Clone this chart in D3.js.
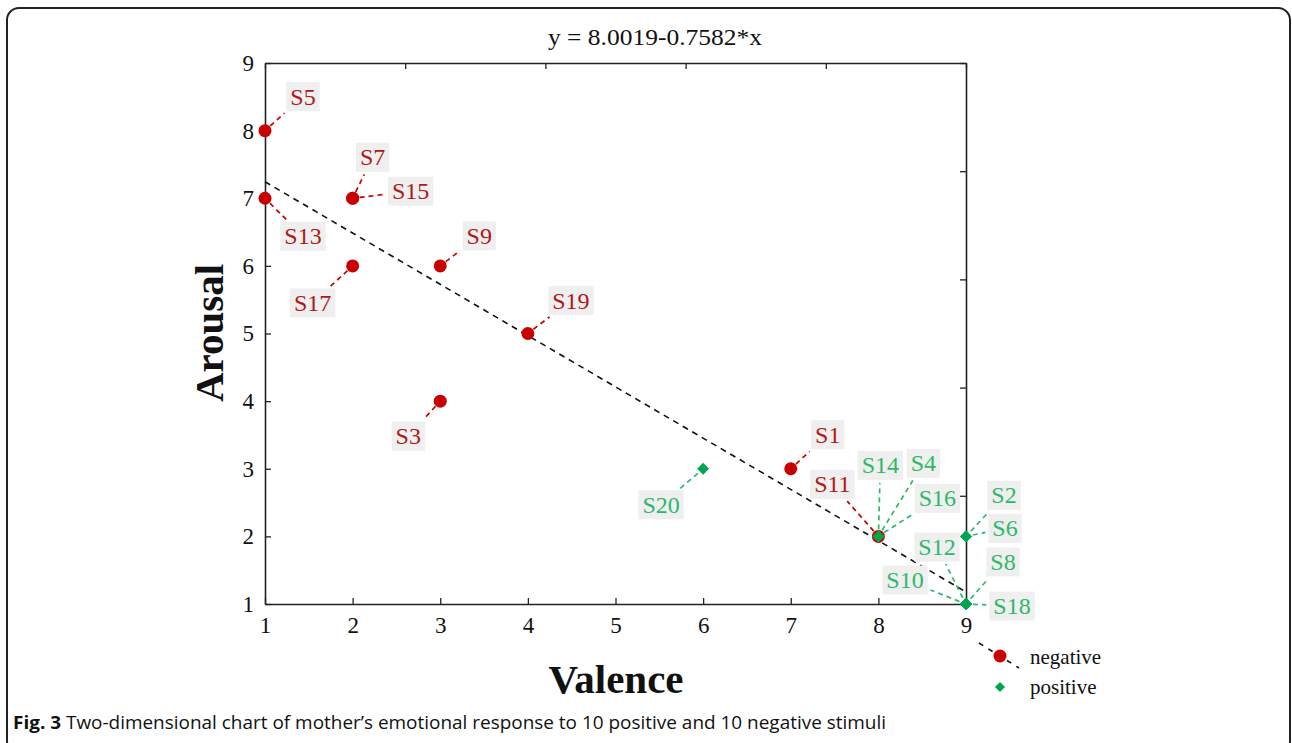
<!DOCTYPE html>
<html>
<head>
<meta charset="utf-8">
<script src="https://cdn.jsdelivr.net/npm/d3@7"></script>
<style>
  body { margin: 0; background: #fff; }
  svg text { font-family: "Liberation Serif", "Times New Roman", serif; }
</style>
</head>
<body>
<div id="chart"></div>
<script>
// negative stimuli
const negNames   = ['S1', 'S3', 'S5', 'S7', 'S9', 'S11', 'S13', 'S15', 'S17', 'S19'];
const negValence = [7, 3, 1, 2, 3, 8, 1, 2, 2, 4];
const negArousal = [3, 4, 8, 7, 6, 2, 7, 7, 6, 5];

// positive stimuli
const posNames   = ['S2', 'S4', 'S6', 'S8', 'S10', 'S12', 'S14', 'S16', 'S18', 'S20'];
const posValence = [9, 8, 9, 9, 9, 9, 8, 8, 9, 6];
const posArousal = [2, 2, 2, 1, 1, 1, 2, 2, 1, 3];

const xTicks = [1, 2, 3, 4, 5, 6, 7, 8, 9];
const yTicks = [1, 2, 3, 4, 5, 6, 7, 8, 9];

// fit line
const intercept = 8.0019;
const slope = -0.7582;
const fitTitle = 'y = 8.0019-0.7582*x';

// where each label sits, relative to its point (pixels)
const labelShift = {
  S1: [37, -34], S3: [-32, 35], S5: [38, -34], S7: [20, -41], S9: [39, -30],
  S11: [-46, -52], S13: [38, 38], S15: [58, -7], S17: [-40, 37], S19: [43, -33],
  S2: [38, -41], S4: [45, -73], S6: [39, -8], S8: [37, -42], S10: [-61, -24],
  S12: [-29, -57], S14: [2, -71], S16: [59, -38], S18: [46, 2], S20: [-42, 36]
};

const serif = '"Liberation Serif", "Times New Roman", serif';
const negColor = '#c80000', negText = '#b01818';
const posColor = '#00a550', posText = '#2db86a';

const svg = d3.select('#chart').append('svg')
  .attr('width', 1292).attr('height', 743);

// figure frame
svg.append('rect')
  .attr('x', 7).attr('y', 8).attr('width', 1283).attr('height', 745)
  .attr('rx', 12)
  .attr('fill', 'none').attr('stroke', '#222').attr('stroke-width', 2);

const x = d3.scaleLinear().domain([1, 9]).range([265, 966]);
const y = d3.scaleLinear().domain([1, 9]).range([604, 63]);

function styleAxis(g) {
  g.attr('font-family', serif);
  g.selectAll('.domain').attr('stroke', '#222').attr('stroke-width', 1.6);
  g.selectAll('.tick line').attr('stroke', '#222').attr('stroke-width', 1.3);
  g.selectAll('.tick text')
    .attr('fill', '#111')
    .style('font-family', serif)
    .style('font-size', '23px');
}

svg.append('g')
  .attr('transform', 'translate(0,604)')
  .call(d3.axisBottom(x).tickValues(xTicks).tickFormat(d3.format('d'))
    .tickSizeInner(-6).tickSizeOuter(0).tickPadding(13))
  .call(styleAxis);

svg.append('g')
  .attr('transform', 'translate(265,0)')
  .call(d3.axisLeft(y).tickValues(yTicks).tickFormat(d3.format('d'))
    .tickSizeInner(-6).tickSizeOuter(0).tickPadding(11))
  .call(styleAxis);

// top and right frame, 5 divisions each
const xTop = d3.scaleLinear().domain([0, 5]).range([265, 966]);
const yRight = d3.scaleLinear().domain([0, 5]).range([604, 63]);
svg.append('g')
  .attr('transform', 'translate(0,63)')
  .call(d3.axisTop(xTop).ticks(5).tickFormat('').tickSizeInner(-6).tickSizeOuter(0))
  .call(styleAxis);
svg.append('g')
  .attr('transform', 'translate(966,0)')
  .call(d3.axisRight(yRight).ticks(5).tickFormat('').tickSizeInner(-6).tickSizeOuter(0))
  .call(styleAxis);

// title
svg.append('text')
  .attr('x', 655).attr('y', 45)
  .attr('text-anchor', 'middle')
  .style('font-family', serif)
  .style('font-size', '24px')
  .attr('fill', '#111')
  .attr('textLength', 214).attr('lengthAdjust', 'spacingAndGlyphs')
  .text(fitTitle);

// axis titles
svg.append('text')
  .attr('x', 616).attr('y', 693)
  .attr('text-anchor', 'middle')
  .style('font-family', serif)
  .style('font-size', '41px').style('font-weight', 'bold')
  .attr('fill', '#111')
  .text('Valence');

svg.append('text')
  .attr('transform', 'translate(223,333) rotate(-90)')
  .attr('text-anchor', 'middle')
  .style('font-family', serif)
  .style('font-size', '41px').style('font-weight', 'bold')
  .attr('fill', '#111')
  .text('Arousal');

// regression line
const fitLine = d3.line().x(d => x(d)).y(d => y(intercept + slope * d));
svg.append('path')
  .attr('d', fitLine([1, 9]))
  .attr('fill', 'none')
  .attr('stroke', '#111')
  .attr('stroke-width', 1.6)
  .attr('stroke-dasharray', '6,5');

const negData = negNames.map((n, i) => ({ name: n, v: negValence[i], a: negArousal[i], neg: true }));
const posData = posNames.map((n, i) => ({ name: n, v: posValence[i], a: posArousal[i], neg: false }));
const allData = negData.concat(posData);

const leaders = svg.append('g');
const marks = svg.append('g');
const labels = svg.append('g');

// labels with grey boxes
allData.forEach(d => {
  const px = x(d.v), py = y(d.a);
  const s = labelShift[d.name];
  const cx = px + s[0], cy = py + s[1];
  const g = labels.append('g');
  const box = g.append('rect').attr('fill', '#efefef');
  const t = g.append('text')
    .attr('x', cx).attr('y', cy + 8)
    .attr('text-anchor', 'middle')
    .style('font-family', serif)
    .style('font-size', '24px')
    .attr('fill', d.neg ? negText : posText)
    .text(d.name);
  const bb = t.node().getBBox();
  const hw = bb.width / 2 + 4, hh = 14.5;
  box.attr('x', cx - hw).attr('y', cy - hh).attr('width', hw * 2).attr('height', hh * 2);

  // leader from the point toward the box
  const dx = s[0], dy = s[1];
  const len = Math.hypot(dx, dy);
  const tEdge = Math.min(dx !== 0 ? hw / Math.abs(dx) : Infinity, dy !== 0 ? hh / Math.abs(dy) : Infinity);
  const endLen = len * (1 - tEdge) - 3;
  const startLen = 7;
  if (endLen > startLen) {
    leaders.append('line')
      .attr('x1', px + dx / len * startLen).attr('y1', py + dy / len * startLen)
      .attr('x2', px + dx / len * endLen).attr('y2', py + dy / len * endLen)
      .attr('stroke', d.neg ? negColor : posText)
      .attr('stroke-width', 1.7)
      .attr('stroke-dasharray', '5,4');
  }
});

// points
marks.selectAll('circle')
  .data(negData)
  .join('circle')
  .attr('cx', d => x(d.v)).attr('cy', d => y(d.a))
  .attr('r', 6.5)
  .attr('fill', negColor);

const diamond = d3.symbol().type(d3.symbolDiamond2).size(90);
marks.selectAll('path.pos')
  .data(posData)
  .join('path')
  .attr('class', 'pos')
  .attr('transform', d => `translate(${x(d.v)},${y(d.a)})`)
  .attr('d', diamond)
  .attr('fill', posColor);

// legend
const legend = svg.append('g');
legend.append('line')
  .attr('x1', 979).attr('y1', 643).attr('x2', 1019).attr('y2', 668)
  .attr('stroke', '#111').attr('stroke-width', 1.6).attr('stroke-dasharray', '5,6');
legend.append('circle').attr('cx', 1000).attr('cy', 656).attr('r', 6.5).attr('fill', negColor);
legend.append('path')
  .attr('transform', 'translate(1000,687)')
  .attr('d', d3.symbol().type(d3.symbolDiamond2).size(65))
  .attr('fill', posColor);
legend.append('text').attr('x', 1030).attr('y', 664)
  .style('font-family', serif)
  .style('font-size', '21px').attr('fill', '#111').text('negative');
legend.append('text').attr('x', 1030).attr('y', 694)
  .style('font-family', serif)
  .style('font-size', '21px').attr('fill', '#111').text('positive');

// caption
const cap = svg.append('text')
  .attr('x', 13).attr('y', 729)
  .style('font-family', '"Open Sans", "Noto Sans", sans-serif')
  .style('font-size', '18px')
  .attr('fill', '#111')
  .attr('textLength', 873).attr('lengthAdjust', 'spacingAndGlyphs');
cap.append('tspan').style('font-weight', 'bold').text('Fig. 3');
cap.append('tspan').text(' Two-dimensional chart of mother\u2019s emotional response to 10 positive and 10 negative stimuli');
</script>
</body>
</html>
